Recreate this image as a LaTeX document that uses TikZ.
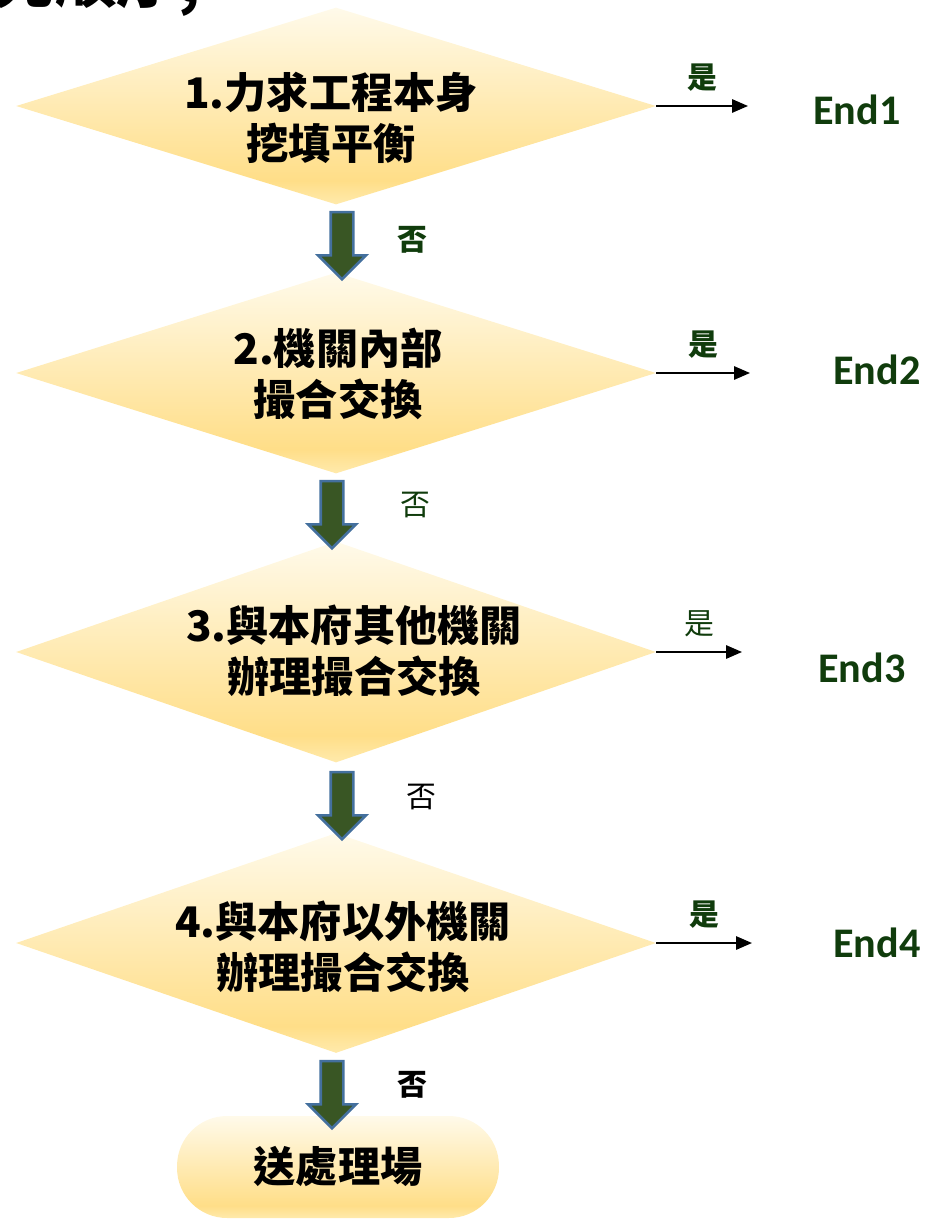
\documentclass[tikz,border=0pt]{standalone}
\usepackage{fontspec}
\setmainfont{Carlito}
\newfontfamily\cjk{Noto Sans CJK TC}
\usetikzlibrary{shapes.geometric,shapes.arrows,arrows.meta}
\definecolor{goldlt}{RGB}{255,250,234}
\definecolor{goldmd}{RGB}{255,234,172}
\definecolor{golddk}{RGB}{255,222,136}
\definecolor{endgreen}{RGB}{16,60,12}
\definecolor{arrowgreen}{RGB}{57,86,36}
\definecolor{arrowblue}{RGB}{68,112,158}
\pgfdeclareverticalshading{goldfill}{100bp}{color(0bp)=(goldmd); color(25bp)=(goldmd); color(31bp)=(golddk); color(75bp)=(goldlt); color(100bp)=(goldlt)}
\begin{document}
\begin{tikzpicture}[x=0.02cm,y=-0.02cm,
    decision/.style={diamond,shade,shading=goldfill,inner sep=0pt,minimum width=12.8cm},
    qtext/.style={font=\cjk\bfseries\fontsize{24}{29}\selectfont,align=center,inner sep=0pt},
    noarrow/.style={single arrow,rotate=-90,draw=arrowblue,fill=arrowgreen,line width=1.5pt,
      inner xsep=0pt,inner ysep=0.2cm,single arrow head extend=0.25cm,minimum height=1.34cm},
    nolabel/.style={font=\cjk\fontsize{17}{20}\selectfont,inner sep=0pt},
    yeslabel/.style={font=\cjk\fontsize{17}{20}\selectfont,text=endgreen,inner sep=0pt,above=8pt},
    endlabel/.style={font=\bfseries\fontsize{24}{28}\selectfont,text=endgreen,inner sep=0pt},
    terminal/.style={rectangle,rounded corners=1cm,shade,shading=goldfill,inner sep=0pt,
      minimum width=6.44cm,minimum height=2.04cm,font=\cjk\bfseries\fontsize{24}{29}\selectfont},
    yesarrow/.style={draw,line width=1.1pt,-{Triangle[length=9pt,width=7.5pt]}}]
  \useasboundingbox (0,0) rectangle (928,1219);
  \node[anchor=base west,inner sep=0pt,font=\cjk\bfseries\fontsize{35}{40}\selectfont] (title) at (-68,3) {優先順序,};
  \node[decision,minimum height=3.94cm] (d1) at (336,106) {};
  \node[decision,minimum height=4.02cm] (d2) at (336,373) {};
  \node[decision,minimum height=4.42cm] (d3) at (336,652) {};
  \node[decision,minimum height=4.40cm] (d4) at (336,943) {};
  \node[qtext] (q1) at (331,118) {1.力求工程本身\\挖填平衡};
  \node[qtext] (q2) at (338,374) {2.機關內部\\撮合交換};
  \node[qtext] (q3) at (354,651) {3.與本府其他機關\\辦理撮合交換};
  \node[qtext] (q4) at (343,947) {4.與本府以外機關\\辦理撮合交換};
  \node[terminal] (dump) at (338,1167) {送處理場};
  \node[noarrow] (a1) at (342,240) {};
  \node[noarrow] (a2) at (332,509) {};
  \node[noarrow] (a3) at (342,800) {};
  \node[noarrow] (a4) at (332,1089) {};
  \node[nolabel,text=endgreen,font=\cjk\bfseries\fontsize{17}{20}\selectfont] (n1) at (412,240) {否};
  \node[nolabel,text=endgreen] (n2) at (415,505) {否};
  \node[nolabel] (n3) at (421,797) {否};
  \node[nolabel,font=\cjk\bfseries\fontsize{17}{20}\selectfont] (n4) at (412,1085) {否};
  \node[endlabel] (e1) at (857,110) {End1};
  \node[endlabel] (e2) at (877,370) {End2};
  \node[endlabel] (e3) at (862,668) {End3};
  \node[endlabel] (e4) at (877,943) {End4};
  \coordinate (p1) at (748,106);
  \coordinate (p2) at (750,373);
  \coordinate (p3) at (742,652);
  \coordinate (p4) at (752,943);
  \begin{scope}[yesarrow]
    \draw (d1.east) -- (p1) node[midway,yeslabel,font=\cjk\bfseries\fontsize{17}{20}\selectfont] {是};
    \draw (d2.east) -- (p2) node[midway,yeslabel,font=\cjk\bfseries\fontsize{17}{20}\selectfont] {是};
    \draw (d3.east) -- (p3) node[midway,yeslabel] {是};
    \draw (d4.east) -- (p4) node[midway,yeslabel,font=\cjk\bfseries\fontsize{17}{20}\selectfont] {是};
  \end{scope}
\end{tikzpicture}
\end{document}
